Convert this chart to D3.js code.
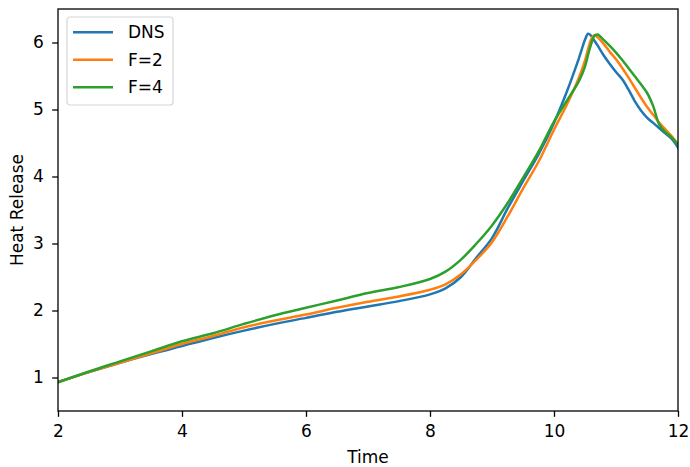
<!DOCTYPE html>
<html>
<head>
<meta charset="utf-8">
<script src="https://cdn.jsdelivr.net/npm/d3@7"></script>
<style>
  body { margin: 0; background: #fff; }
  svg { font-family: "DejaVu Sans", sans-serif; }
</style>
</head>
<body>
<svg width="690" height="467"></svg>
<script>
// time samples shared by the three runs
const time = [2, 2.5, 3, 3.5, 4, 4.5, 5, 5.5, 6, 6.5, 7, 7.5, 8, 8.25, 8.5, 8.75, 9, 9.25, 9.5, 9.75,
  10, 10.2, 10.4, 10.5, 10.55, 10.6, 10.65, 10.7, 10.8, 10.9, 11, 11.1, 11.2, 11.3, 11.4, 11.5, 11.6, 11.7, 11.8, 11.9, 12];

const dns = [0.93, 1.08, 1.22, 1.35, 1.47, 1.59, 1.70, 1.80, 1.89, 1.98, 2.06, 2.14, 2.24, 2.33, 2.50, 2.79, 3.08, 3.52, 3.93, 4.33,
  4.80, 5.25, 5.76, 6.04, 6.13, 6.10, 6.03, 5.96, 5.81, 5.68, 5.56, 5.45, 5.30, 5.13, 4.99, 4.88, 4.80, 4.72, 4.64, 4.56, 4.43];

const f2 = [0.93, 1.08, 1.22, 1.36, 1.50, 1.62, 1.75, 1.85, 1.94, 2.04, 2.13, 2.21, 2.31, 2.39, 2.54, 2.76, 3.02, 3.40, 3.82, 4.22,
  4.70, 5.06, 5.47, 5.73, 5.90, 6.05, 6.11, 6.08, 5.98, 5.86, 5.75, 5.62, 5.48, 5.33, 5.18, 5.04, 4.92, 4.80, 4.70, 4.60, 4.48];

const f4 = [0.93, 1.09, 1.24, 1.39, 1.54, 1.66, 1.80, 1.93, 2.04, 2.15, 2.26, 2.35, 2.47, 2.58, 2.76, 3.00, 3.27, 3.60, 3.98, 4.37,
  4.82, 5.12, 5.42, 5.64, 5.82, 5.98, 6.10, 6.12, 6.04, 5.95, 5.85, 5.74, 5.62, 5.50, 5.38, 5.25, 5.05, 4.77, 4.66, 4.58, 4.47];

const seriesNames = ["DNS", "F=2", "F=4"];
const seriesColors = ["#1f77b4", "#ff7f0e", "#2ca02c"];
const xTicks = [2, 4, 6, 8, 10, 12];
const yTicks = [1, 2, 3, 4, 5, 6];

const svg = d3.select("svg");
const margin = {top: 9, right: 12, bottom: 56, left: 58};
const width = 690 - margin.left - margin.right;
const height = 467 - margin.top - margin.bottom;
const fs = "17px";

const x = d3.scaleLinear().domain([2, 12]).range([0, width]);
const y = d3.scaleLinear().domain([0.5, 6.5]).range([height, 0]);

const g = svg.append("g").attr("transform", `translate(${margin.left},${margin.top})`);

// clip lines to the axes box
g.append("clipPath").attr("id", "clip")
  .append("rect").attr("width", width).attr("height", height);

const line = d3.line()
  .x(d => x(d[0]))
  .y(d => y(d[1]))
  .curve(d3.curveCatmullRom.alpha(0.5));

[dns, f2, f4].forEach((vals, i) => {
  g.append("path")
    .datum(time.map((t, j) => [t, vals[j]]))
    .attr("clip-path", "url(#clip)")
    .attr("fill", "none")
    .attr("stroke", seriesColors[i])
    .attr("stroke-width", 2.5)
    .attr("stroke-linejoin", "round")
    .attr("stroke-linecap", "square")
    .attr("d", line);
});

// axes
const xAxis = g.append("g")
  .attr("transform", `translate(0,${height})`)
  .call(d3.axisBottom(x).tickValues(xTicks).tickSize(5.8).tickPadding(8.3).tickFormat(d3.format("d")));
const yAxis = g.append("g")
  .call(d3.axisLeft(y).tickValues(yTicks).tickSize(5.8).tickPadding(8.5).tickFormat(d3.format("d")));

[xAxis, yAxis].forEach(a => {
  a.select(".domain").remove();
  a.selectAll(".tick line").attr("stroke", "#000").attr("stroke-width", 1.3);
  a.selectAll(".tick text").attr("fill", "#000").attr("font-size", fs)
    .attr("font-family", "DejaVu Sans");
});

// frame
g.append("rect")
  .attr("width", width).attr("height", height)
  .attr("fill", "none").attr("stroke", "#000").attr("stroke-width", 1.3);

// axis labels
svg.append("text")
  .attr("x", margin.left + width / 2).attr("y", 463)
  .attr("text-anchor", "middle").attr("font-size", fs)
  .text("Time");
svg.append("text")
  .attr("transform", `translate(22.5,${margin.top + height / 2}) rotate(-90)`)
  .attr("text-anchor", "middle").attr("font-size", fs)
  .text("Heat Release");

// legend
const legend = svg.append("g").attr("transform", "translate(67,17)");
legend.append("rect")
  .attr("width", 106).attr("height", 88).attr("rx", 3)
  .attr("fill", "#fff").attr("fill-opacity", 0.8)
  .attr("stroke", "#d6d6d6").attr("stroke-width", 1.2);
seriesNames.forEach((name, i) => {
  const ly = 15.3 + i * 27.5;
  legend.append("line")
    .attr("x1", 6).attr("x2", 46).attr("y1", ly).attr("y2", ly)
    .attr("stroke", seriesColors[i]).attr("stroke-width", 2.5);
  legend.append("text")
    .attr("x", 61).attr("y", ly).attr("dy", "0.36em")
    .attr("font-size", fs)
    .text(name);
});
</script>
</body>
</html>
